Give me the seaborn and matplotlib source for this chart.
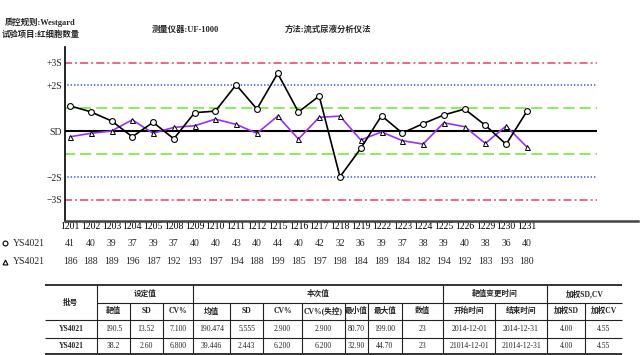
import matplotlib
matplotlib.use("Agg")
import matplotlib.pyplot as plt
import matplotlib.transforms as mtransforms
import pandas as pd
import seaborn as sns

# ---- data ----
dates = ["1201", "1202", "1203", "1204", "1205", "1208", "1209", "1210", "1211", "1212", "1215", "1216",
         "1217", "1218", "1219", "1222", "1223", "1224", "1225", "1226", "1229", "1230", "1231"]
circle_vals = [41, 40, 39, 37, 39, 37, 40, 40, 43, 40, 44, 40, 42, 32, 36, 39, 37, 38, 39, 40, 38, 36, 40]
triangle_vals = [186, 188, 189, 196, 187, 192, 193, 197, 194, 188, 199, 185, 197, 198, 184, 189, 184, 182,
                 194, 192, 183, 193, 180]
# plotted positions in SD units
black_sd = [1.11, 0.85, 0.45, -0.24, 0.39, -0.33, 0.81, 0.88, 2.03, 0.97, 2.53, 0.84, 1.54, -1.99, -0.75,
            0.68, -0.08, 0.33, 0.71, 0.97, 0.26, -0.57, 0.87]
purple_sd = [-0.24, -0.09, 0.01, 0.50, -0.09, 0.17, 0.24, 0.53, 0.30, -0.09, 0.66, -0.34, 0.61, 0.66, -0.38,
             -0.03, -0.41, -0.56, 0.37, 0.20, -0.53, 0.23, -0.69]
ytick_pos = [3, 2, 0, -2, -3]
ytick_lab = ["+3S", "+2S", "SD", "\u22122S", "\u22123S"]

group_heads = [("设定值", 1, 3), ("本次值", 4, 10), ("靶值变更时间", 11, 12), ("加权SD,CV", 13, 14)]
col_heads = ["批号", "靶值", "SD", "CV%", "均值", "SD", "CV%", "CV%(失控)", "最小值", "最大值", "数值",
             "开始时间", "结束时间", "加权SD", "加权CV"]
row1 = ["YS4021", "190.5", "13.52", "7.100", "190.474", "5.555", "2.900", "2.900", "80.70", "199.00", "23",
        "2014-12-01", "2014-12-31", "4.00", "4.55"]
row2 = ["YS4021", "38.2", "2.60", "6.800", "39.446", "2.443", "6.200", "6.200", "32.90", "44.70", "23",
        "21014-12-01", "21014-12-31", "4.00", "4.55"]

# ---- layout (pixels) ----
W, H = 640, 355
col_edges = [45, 96.7, 130, 162.7, 193.3, 230, 263.3, 301.7, 345, 368, 402, 443, 495, 547, 585, 622]
row_edges = [285, 302.5, 320, 337.5, 354]

sns.set_style("white")
plt.rcParams["font.family"] = ["Liberation Serif", "Noto Sans CJK SC"]
plt.rcParams["lines.scale_dashes"] = False

fig = plt.figure(figsize=(6.4, 3.55), dpi=100)

# overlay in pixel coordinates for texts and the table
ov = fig.add_axes([0, 0, 1, 1])
ov.set_xlim(0, W)
ov.set_ylim(H, 0)
ov.axis("off")

def box(x0, y0, x1, y1):
    return [x0 / W, 1 - y1 / H, (x1 - x0) / W, (y1 - y0) / H]

ax = fig.add_axes(box(65, 47, 638, 221))
ax.patch.set_alpha(0)

n = len(dates)
df = pd.DataFrame({"idx": list(range(n)), "black": black_sd, "purple": purple_sd})

xmax_line = 25.37
ax.hlines([3, -3], -0.3, xmax_line, color="#ee3a64", lw=1.1, linestyles=[(0, (5.8, 2.2, 1.4, 2.2))])
ax.hlines([2, -2], -0.3, xmax_line, color="#4a63e6", lw=1.2, linestyles=[(0, (1.0, 1.4))])
ax.hlines([1, -1], -0.3, xmax_line, color="#6ee82a", lw=1.1, linestyles=[(0, (8, 3.6))])
ax.hlines([0], -0.3, xmax_line, color="black", lw=1.5)

sns.lineplot(data=df, x="idx", y="purple", color="#9b30f0", lw=1.2, marker="^", markersize=3.6,
             markerfacecolor="white", markeredgecolor="black", markeredgewidth=0.7, ax=ax, zorder=3)
sns.lineplot(data=df, x="idx", y="black", color="black", lw=1.2, marker="o", markersize=4.2,
             markerfacecolor="white", markeredgecolor="black", markeredgewidth=0.8, ax=ax, zorder=4)

ax.set_xlim(-0.24, 27.35)
ax.set_ylim(-3.92, 3.68)
ax.set_xlabel("")
ax.set_ylabel("")
ax.set_xticks(range(n))
ax.set_xticklabels(dates, fontsize=7)
ax.set_yticks(ytick_pos)
ax.set_yticklabels(ytick_lab, fontsize=7)
ax.tick_params(axis="x", direction="in", length=3, width=0.7, pad=1, colors="black")
ax.tick_params(axis="y", length=0, pad=2)
for s in ["top", "right"]:
    ax.spines[s].set_visible(False)
ax.spines["left"].set_color("black")
ax.spines["left"].set_linewidth(1.2)
ax.spines["bottom"].set_color("#444444")
ax.spines["bottom"].set_linewidth(1.8)

# value rows under the axis
tr = mtransforms.blended_transform_factory(ax.transData, ov.transData)
for i in range(n):
    ax.text(i, 243, str(circle_vals[i]), transform=tr, ha="center", va="center", fontsize=7)
    ax.text(i, 262, str(triangle_vals[i]), transform=tr, ha="center", va="center", fontsize=7)
ov.plot([5], [243], marker="o", ms=3.5, mfc="white", mec="black", mew=0.8)
ov.plot([5], [262], marker="^", ms=3.5, mfc="white", mec="black", mew=0.8)
ov.text(13, 243, "YS4021", ha="left", va="center", fontsize=7)
ov.text(13, 262, "YS4021", ha="left", va="center", fontsize=7)

# header texts
hfs = 6
ov.text(40, 22, "质控规则:Westgard", ha="center", va="center", fontsize=hfs, fontweight="bold")
ov.text(41, 35, "试验项目:红细胞数量", ha="center", va="center", fontsize=hfs, fontweight="bold")
ov.text(185, 30, "测量仪器:UF-1000", ha="center", va="center", fontsize=hfs, fontweight="bold")
ov.text(328, 30, "方法:流式尿液分析仪法", ha="center", va="center", fontsize=hfs, fontweight="bold")

# table
lc = "#222222"
ov.hlines(row_edges[0], col_edges[0], col_edges[-1], color=lc, lw=1.3)
ov.hlines(row_edges[1], col_edges[1], col_edges[-1], color=lc, lw=0.8)
ov.hlines(row_edges[2:4], col_edges[0], col_edges[-1], color=lc, lw=0.8)
ov.hlines(row_edges[4], col_edges[0], col_edges[-1], color=lc, lw=1.3)
group_edges = {1, 4, 11, 13}
for j in range(1, len(col_edges) - 1):
    top = row_edges[0] if j in group_edges else row_edges[1]
    ov.vlines(col_edges[j], top, row_edges[4], color=lc, lw=0.8)

def cx(a, b):
    return (col_edges[a] + col_edges[b + 1]) / 2

def cy(r):
    return (row_edges[r] + row_edges[r + 1]) / 2

tfs = 5.5
for name, a, b in group_heads:
    ov.text(cx(a, b), cy(0), name, ha="center", va="center", fontsize=tfs, fontweight="bold")
for j, name in enumerate(col_heads):
    y = (row_edges[0] + row_edges[2]) / 2 if j == 0 else cy(1)
    ov.text(cx(j, j), y, name, ha="center", va="center", fontsize=tfs, fontweight="bold")
for r, row in ((2, row1), (3, row2)):
    for j, v in enumerate(row):
        ov.text(cx(j, j), cy(r), v, ha="center", va="center", fontsize=tfs,
                fontweight="bold" if j == 0 else "normal")

fig.savefig("out.png", dpi=100)
